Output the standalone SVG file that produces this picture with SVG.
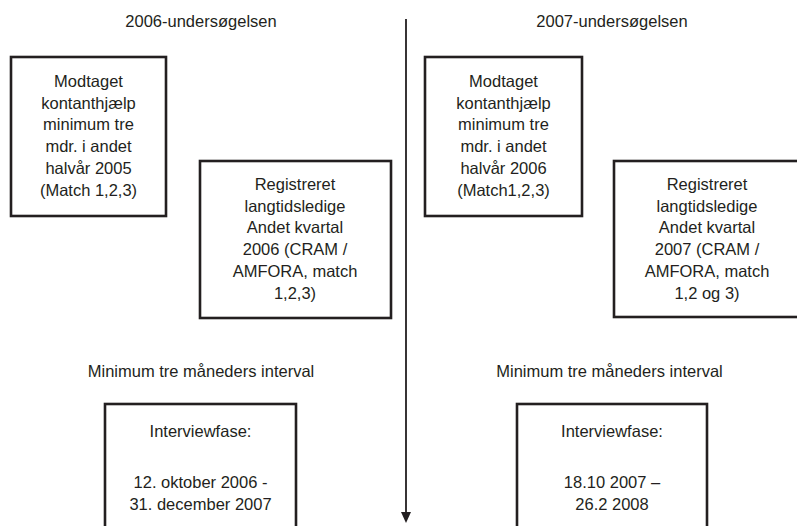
<svg xmlns="http://www.w3.org/2000/svg" width="797" height="526" viewBox="0 0 797 526">
<defs>
<style>
text{font-family:"Liberation Sans",Arial,sans-serif;font-size:16.5px;fill:#231f20;text-anchor:middle}
rect{fill:#fff;stroke:#231f20;stroke-width:2.6}
.conn{stroke:#231f20;stroke-width:1.8;fill:none}
</style>
<marker id="arr" markerWidth="10" markerHeight="10" refX="5" refY="9" orient="auto" markerUnits="userSpaceOnUse" viewBox="0 0 10 10">
<path d="M0,0 L10,0 L5,10 Z" fill="#231f20" transform="rotate(-90 5 5)"/>
</marker>
</defs>
<rect x="0" y="0" width="797" height="526" style="stroke:none;fill:#fff"/>
<g id="connectors">
<line class="conn" x1="406" y1="19" x2="406" y2="512"/>
<path d="M401,512 L411,512 L406,523 Z" fill="#231f20"/>
</g>
<g id="title2006"><text x="201" y="27">2006-undersøgelsen</text></g>
<g id="title2007"><text x="612" y="27">2007-undersøgelsen</text></g>
<g id="modtaget2006">
<rect x="11" y="57" width="155" height="159"/>
<text x="88.5" y="87">Modtaget</text>
<text x="88.5" y="108.7">kontanthjælp</text>
<text x="88.5" y="130.4">minimum tre</text>
<text x="88.5" y="152.1">mdr. i andet</text>
<text x="88.5" y="173.8">halvår 2005</text>
<text x="88.5" y="195.5">(Match 1,2,3)</text>
</g>
<g id="registreret2006">
<rect x="200" y="161" width="191" height="157"/>
<text x="295" y="190">Registreret</text>
<text x="295" y="211.7">langtidsledige</text>
<text x="295" y="233.4">Andet kvartal</text>
<text x="295" y="255.1">2006 (CRAM /</text>
<text x="295" y="276.8">AMFORA, match</text>
<text x="295" y="298.5">1,2,3)</text>
</g>
<g id="modtaget2007">
<rect x="425" y="57" width="157" height="159"/>
<text x="503.5" y="87">Modtaget</text>
<text x="503.5" y="108.7">kontanthjælp</text>
<text x="503.5" y="130.4">minimum tre</text>
<text x="503.5" y="152.1">mdr. i andet</text>
<text x="503.5" y="173.8">halvår 2006</text>
<text x="503.5" y="195.5">(Match1,2,3)</text>
</g>
<g id="registreret2007">
<rect x="614" y="161" width="190" height="156"/>
<text x="707" y="190">Registreret</text>
<text x="707" y="211.7">langtidsledige</text>
<text x="707" y="233.4">Andet kvartal</text>
<text x="707" y="255.1">2007 (CRAM /</text>
<text x="707" y="276.8">AMFORA, match</text>
<text x="707" y="298.5">1,2 og 3)</text>
</g>
<g id="interval2006"><text x="201" y="377">Minimum tre måneders interval</text></g>
<g id="interval2007"><text x="609.5" y="377">Minimum tre måneders interval</text></g>
<g id="interview2006">
<rect x="105" y="404" width="191" height="140"/>
<text x="200.5" y="437">Interviewfase:</text>
<text x="200.5" y="488">12. oktober 2006 -</text>
<text x="200.5" y="510">31. december 2007</text>
</g>
<g id="interview2007">
<rect x="517" y="404" width="190" height="140"/>
<text x="612" y="437">Interviewfase:</text>
<text x="612" y="488">18.10 2007 –</text>
<text x="612" y="510">26.2 2008</text>
</g>
</svg>
